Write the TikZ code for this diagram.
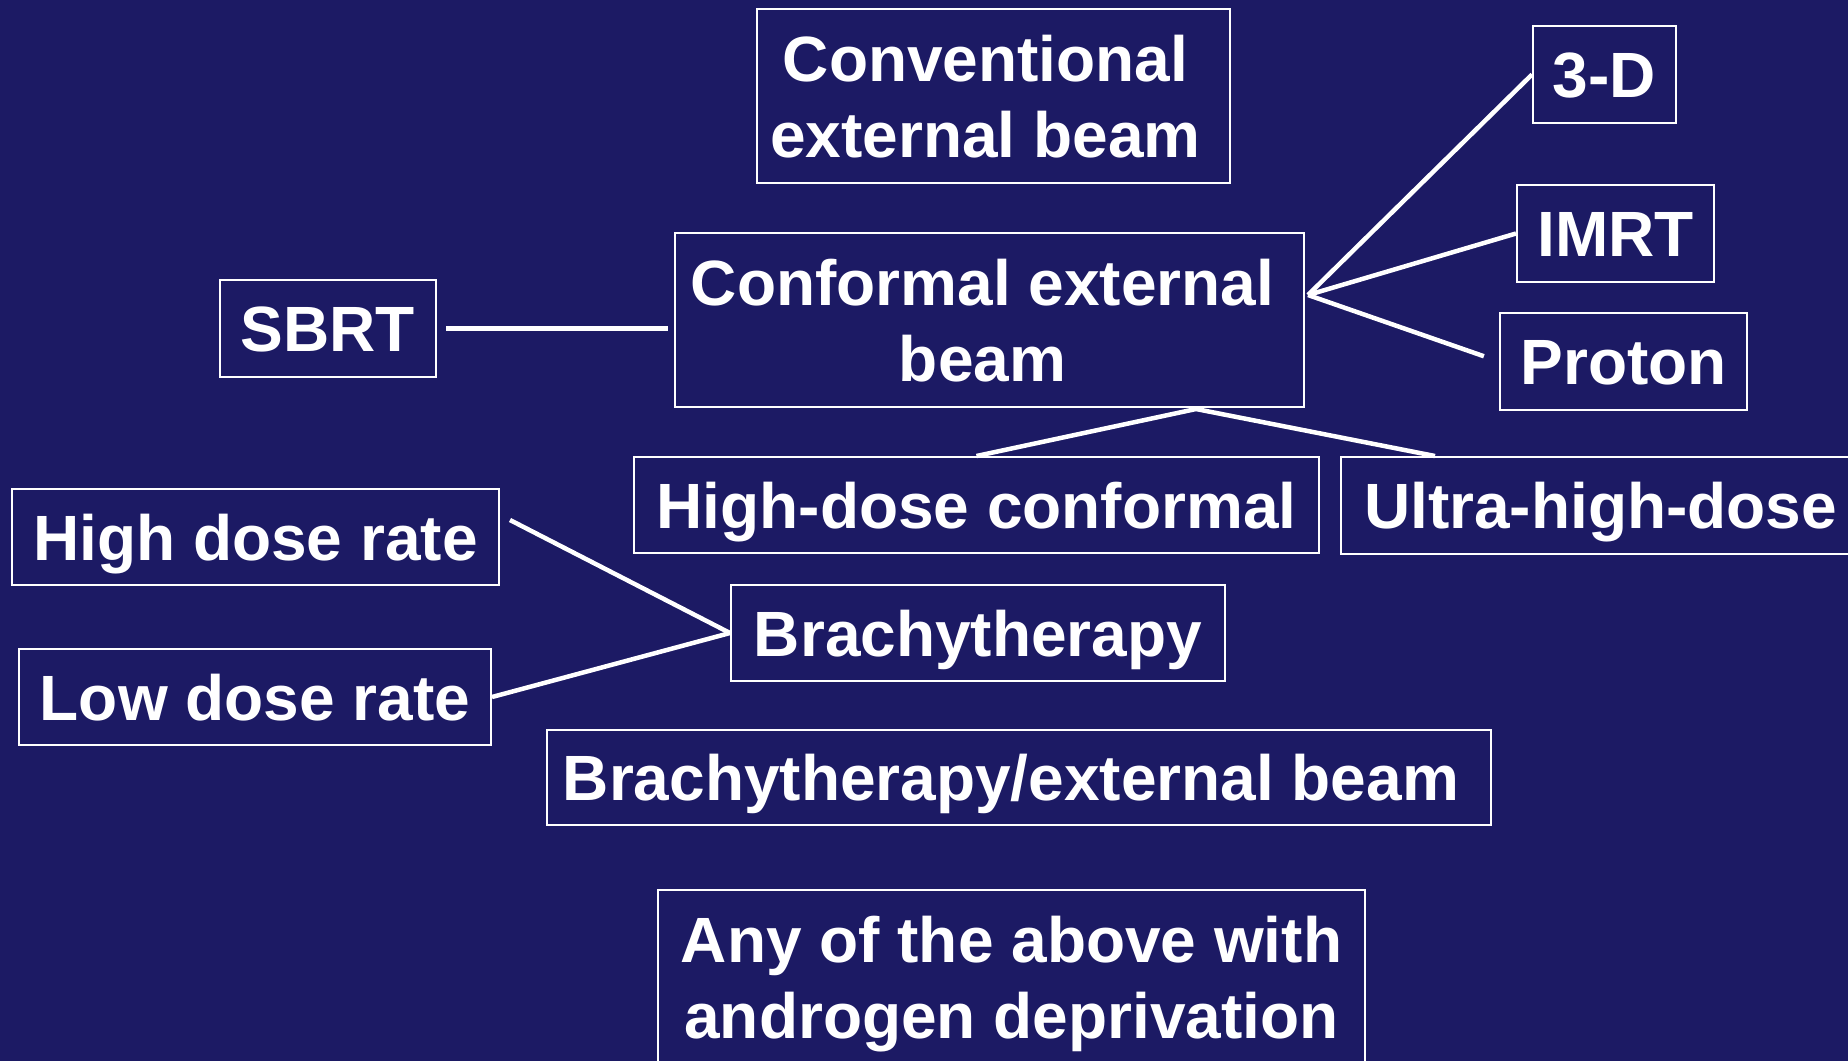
\documentclass[tikz,border=0pt]{standalone}
\usepackage{fontspec}
\setmainfont{Liberation Sans}
\usetikzlibrary{calc}
\definecolor{slidebg}{RGB}{28,26,100}

\begin{document}
\begin{tikzpicture}[x=1pt,y=-1pt,
  box/.style={draw=white, line width=2pt, text=white, inner sep=0pt, align=center,
    text depth=0pt, font=\fontsize{64}{76}\selectfont\bfseries},
  onebox/.style={box, text height=46pt},
  link/.style={draw=white, line width=4.5pt}]
\useasboundingbox (0,0) rectangle (1848,1061);
\clip (0,0) rectangle (1848,1061);
\fill[slidebg] (0,0) rectangle (1848,1061);

%% boxes
\node[box, minimum width=473pt, minimum height=174pt] (conv) at (993.5,96) {Conventional\hspace*{16pt}\\external beam\hspace*{16pt}};
\node[box, minimum width=629pt, minimum height=174pt] (conf) at (989.5,320) {Conformal external\hspace*{14pt}\\beam\hspace*{14pt}};
\node[onebox, minimum width=143pt, minimum height=97pt] (threeD) at (1604.5,74.5) {3-D};
\node[onebox, minimum width=197pt, minimum height=97pt] (imrt) at (1615.5,233.5) {IMRT};
\node[onebox, minimum width=247pt, minimum height=97pt] (proton) at (1623.5,361.5) {Proton};
\node[onebox, minimum width=216pt, minimum height=97pt] (sbrt) at (328,328.5) {SBRT};
\node[onebox, minimum width=685pt, minimum height=96pt] (hdc) at (976.5,505) {High-dose conformal};
\node[onebox, minimum width=519pt, minimum height=97pt] (ultra) at (1600.5,505.5) {Ultra-high-dose};
\node[onebox, minimum width=487pt, minimum height=96pt] (hdr) at (255.5,537) {High dose rate};
\node[onebox, minimum width=472pt, minimum height=96pt] (ldr) at (255,697) {Low dose rate};
\node[onebox, minimum width=494pt, minimum height=96pt] (brachy) at (978,633) {Brachytherapy};
\node[onebox, minimum width=944pt, minimum height=95pt] (brext) at (1019,777.5) {Brachytherapy/external beam\hspace*{16pt}};
\node[box, minimum width=707pt, minimum height=174pt] (any) at (1011.5,977) {Any of the above with\\androgen deprivation};

%% junctions
\coordinate (fanR) at (1308,295);
\coordinate (fanB) at (1196,409);

\draw[link, shorten <=9pt, shorten >=6pt] (sbrt.east) -- (sbrt.east -| conf.west); %%SBRT
\draw[link] (fanR) -- (threeD.west); %%3-D
\draw[link] (fanR) -- (imrt.west); %%IMRT
\draw[link, shorten >=16pt] (fanR) -- (proton.west); %%Proton
\draw[link] (fanB) -- (hdc.north); %%HighDose
\draw[link] (fanB) -- ([xshift=95pt]ultra.north west); %%UltraHigh
\draw[link] (brachy.west) -- ([shift={(10,-17)}]hdr.east); %%HDR
\draw[link] (brachy.west) -- (ldr.east); %%LDR

\end{tikzpicture}
\end{document}
